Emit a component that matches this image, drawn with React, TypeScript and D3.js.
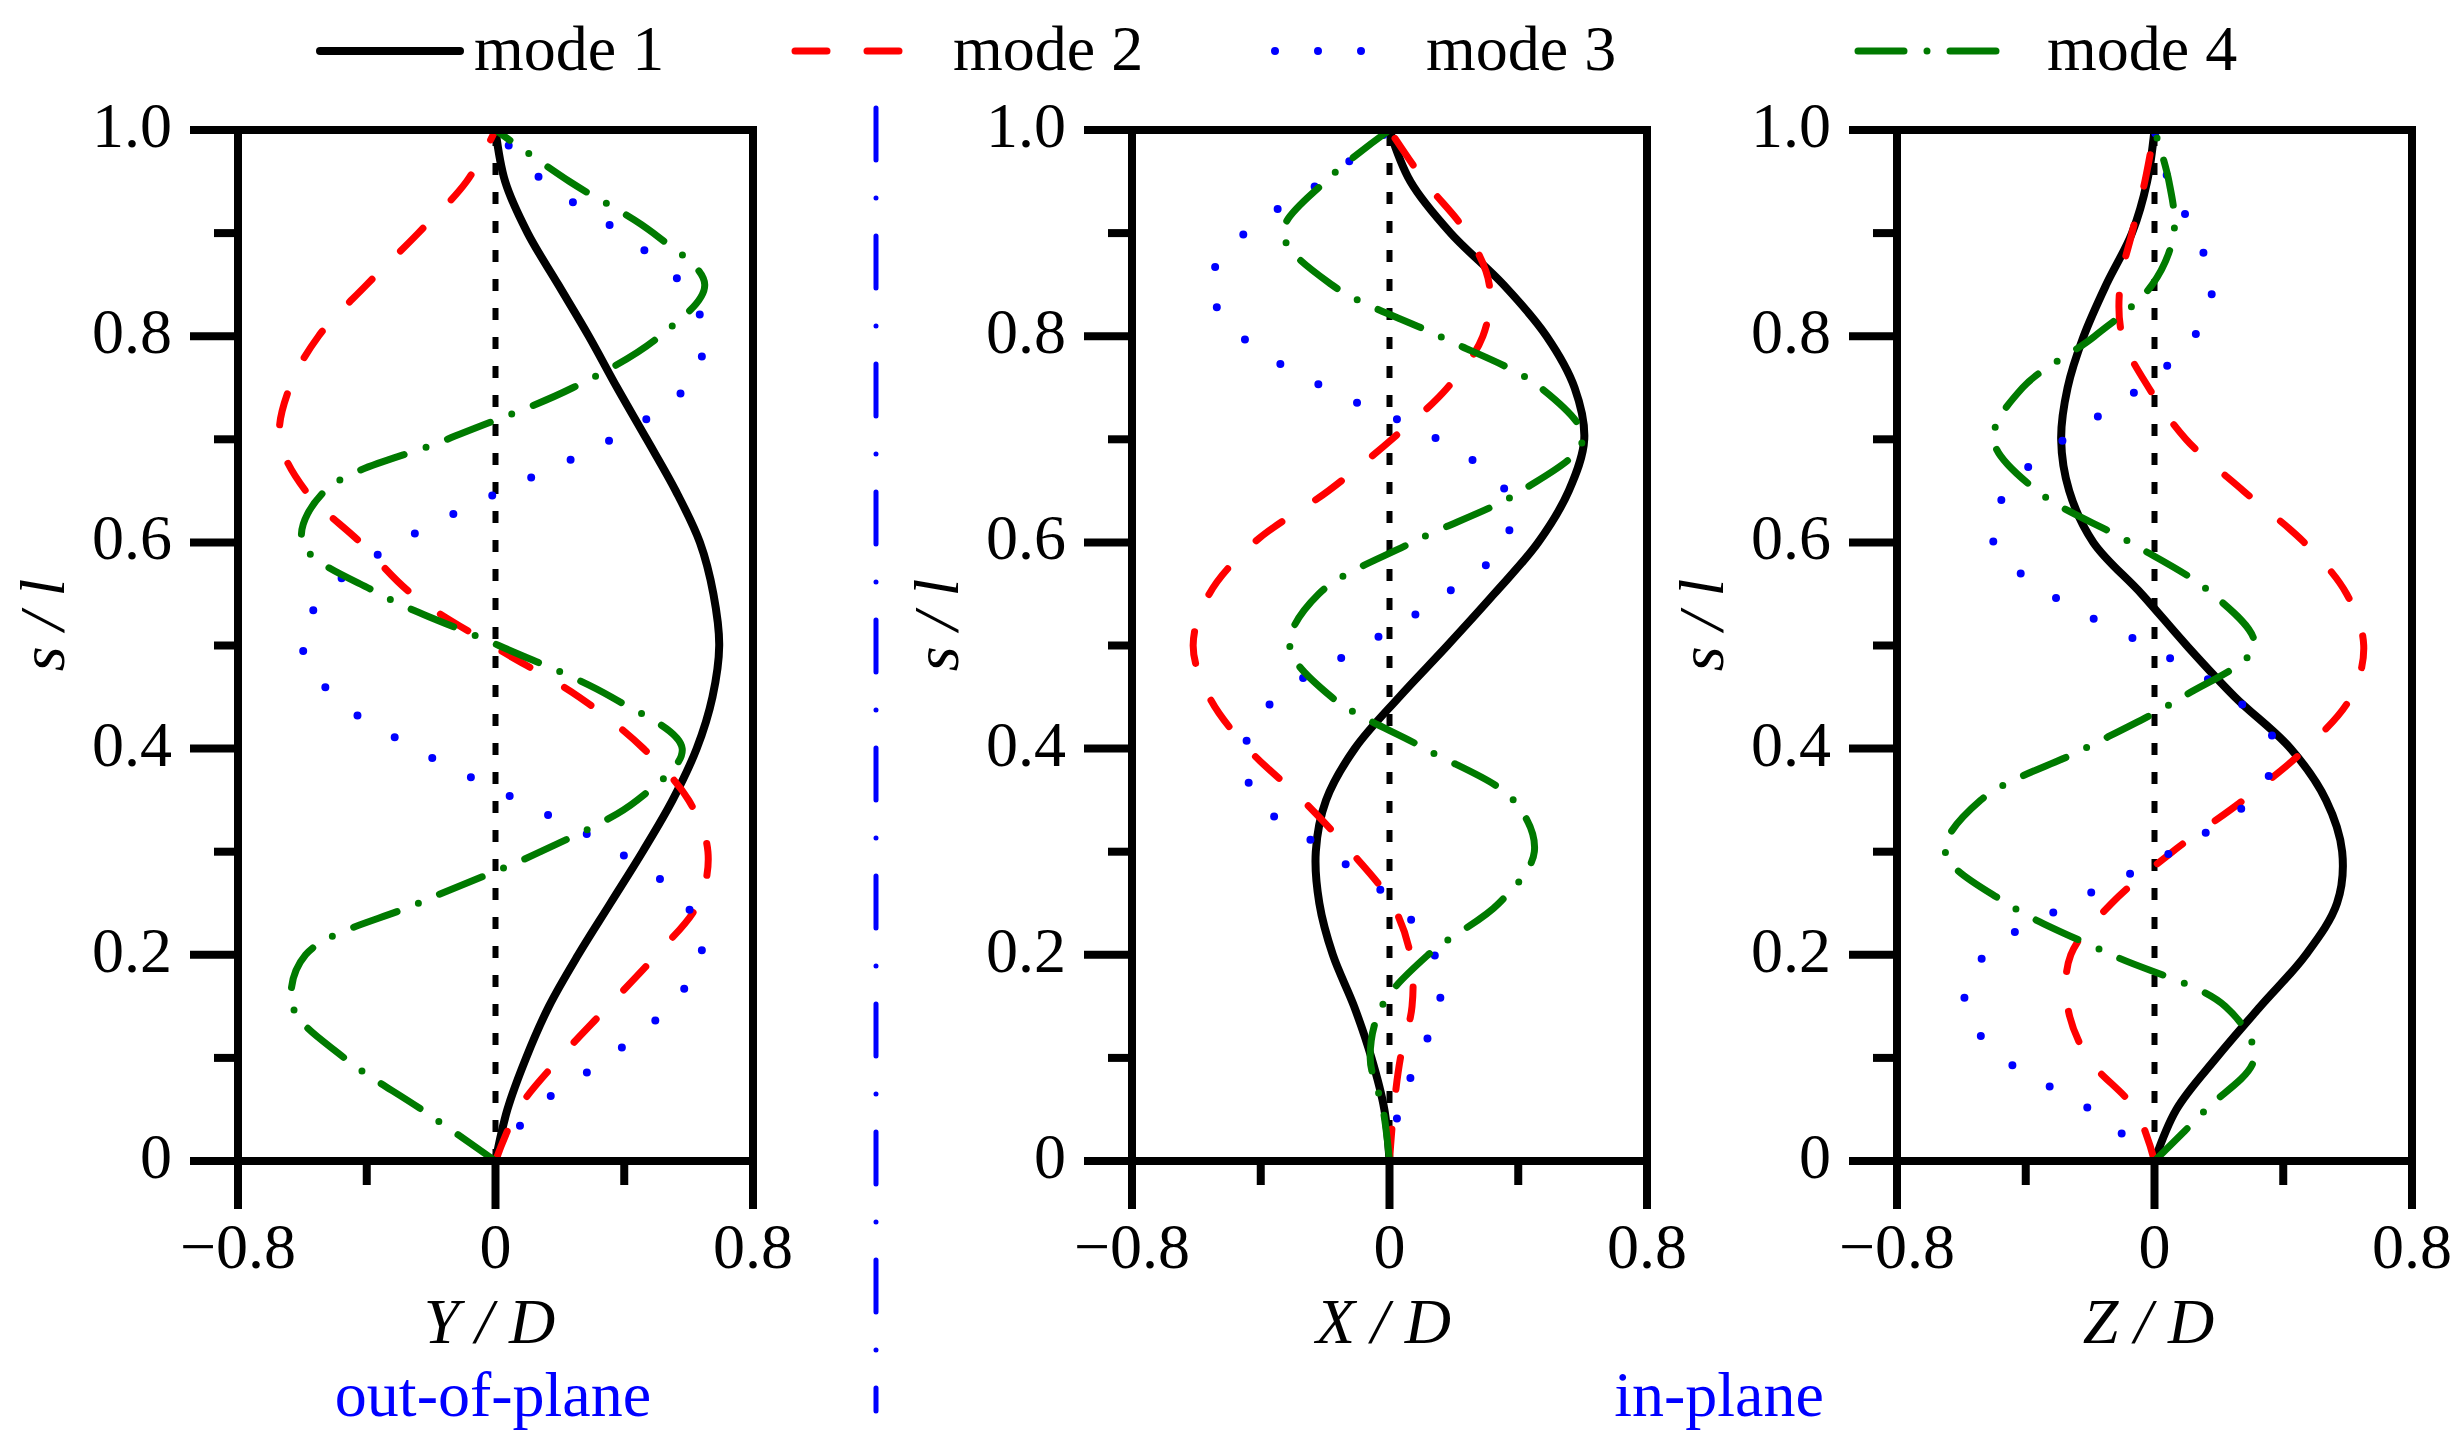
import React from 'react';
import * as d3 from 'd3';

// arc-length positions s/l where the mode shapes were read
const sLevels = [0, 0.05, 0.1, 0.15, 0.2, 0.25, 0.3, 0.35, 0.4, 0.45, 0.5, 0.55, 0.6, 0.65, 0.7, 0.75, 0.8, 0.85, 0.9, 0.95, 1];

// out-of-plane Y/D
const yMode1 = [0, 0.037, 0.095, 0.166, 0.257, 0.357, 0.457, 0.55, 0.625, 0.674, 0.695, 0.677, 0.635, 0.56, 0.47, 0.378, 0.29, 0.195, 0.10, 0.03, 0];
const yMode2 = [0, 0.07, 0.20, 0.35, 0.50, 0.63, 0.66, 0.60, 0.46, 0.26, -0.01, -0.26, -0.42, -0.59, -0.67, -0.64, -0.55, -0.40, -0.24, -0.09, 0];
const yMode3 = [0, 0.12, 0.35, 0.54, 0.64, 0.59, 0.38, 0.07, -0.25, -0.50, -0.60, -0.53, -0.30, 0.02, 0.36, 0.59, 0.65, 0.58, 0.39, 0.15, 0];
const yMode4 = [0, -0.23, -0.47, -0.63, -0.59, -0.24, 0.14, 0.44, 0.58, 0.36, 0.01, -0.36, -0.60, -0.53, -0.15, 0.24, 0.51, 0.65, 0.49, 0.23, 0];

// in-plane X/D
const xMode1 = [0, -0.016, -0.056, -0.11, -0.176, -0.218, -0.229, -0.197, -0.108, 0.03, 0.18, 0.325, 0.462, 0.557, 0.605, 0.575, 0.488, 0.354, 0.19, 0.065, 0];
const xMode2 = [0, 0.013, 0.034, 0.07, 0.065, 0.007, -0.12, -0.27, -0.44, -0.56, -0.61, -0.56, -0.42, -0.19, 0.007, 0.18, 0.29, 0.31, 0.24, 0.11, 0];
const xMode3 = [0, 0.03, 0.09, 0.155, 0.14, 0.018, -0.19, -0.41, -0.45, -0.35, -0.08, 0.175, 0.36, 0.36, 0.15, -0.20, -0.46, -0.56, -0.45, -0.21, 0];
const xMode4 = [0, -0.02, -0.06, -0.024, 0.12, 0.34, 0.45, 0.385, 0.11, -0.18, -0.31, -0.22, 0.07, 0.41, 0.60, 0.47, 0.155, -0.18, -0.33, -0.20, 0];

// in-plane Z/D
const zMode1 = [0, 0.068, 0.192, 0.329, 0.47, 0.567, 0.583, 0.533, 0.423, 0.25, 0.10, -0.04, -0.19, -0.265, -0.29, -0.27, -0.22, -0.15, -0.07, -0.023, 0];
const zMode2 = [0, -0.06, -0.207, -0.27, -0.26, -0.133, 0.056, 0.276, 0.47, 0.61, 0.65, 0.597, 0.465, 0.276, 0.098, -0.018, -0.10, -0.107, -0.07, -0.03, 0];
const zMode3 = [0, -0.20, -0.47, -0.59, -0.527, -0.26, 0.056, 0.297, 0.38, 0.245, -0.025, -0.325, -0.50, -0.46, -0.28, -0.044, 0.124, 0.18, 0.124, 0.045, 0];
const zMode4 = [0, 0.16, 0.31, 0.22, -0.133, -0.46, -0.65, -0.54, -0.217, 0.087, 0.31, 0.18, -0.076, -0.365, -0.50, -0.41, -0.186, -0.007, 0.06, 0.045, 0];

const modeNames = ['mode 1', 'mode 2', 'mode 3', 'mode 4'];
const axisNames = ['Y', 'X', 'Z'];
const groupNames = ['out-of-plane', 'in-plane'];

const xTicks = [-0.8, 0, 0.8];
const xTickLabels = ['\u22120.8', '0', '0.8'];
const xMinorTicks = [-0.4, 0.4];
const yTicks = [0, 0.2, 0.4, 0.6, 0.8, 1.0];
const yTickLabels = ['0', '0.2', '0.4', '0.6', '0.8', '1.0'];
const yMinorTicks = [0.1, 0.3, 0.5, 0.7, 0.9];

const panelData = [
  [yMode1, yMode2, yMode3, yMode4],
  [xMode1, xMode2, xMode3, xMode4],
  [zMode1, zMode2, zMode3, zMode4],
];

const W = 2458;
const H = 1448;
const FONT = "'Liberation Serif', 'Times New Roman', serif";
const FS = 64;

const panelLeft = [238, 1132, 1897];
const panelW = 515;
const top = 130;
const bottom = 1161;

const styles = [
  { color: '#000000', width: 8, dash: undefined, cap: 'round' },
  { color: '#ff0000', width: 7, dash: '32 40', cap: 'round' },
  { color: '#0000ff', width: 8, dash: '0 43', cap: 'round' },
  { color: '#007a00', width: 7, dash: '46 23 0 23', cap: 'round' },
];

const legendPos = [
  { x1: 320, x2: 460, tx: 474 },
  { x1: 795, x2: 918, tx: 953 },
  { x1: 1275, x2: 1370, tx: 1426 },
  { x1: 1858, x2: 1998, tx: 2047 },
];

const yScale = d3.scaleLinear().domain([0, 1]).range([bottom, top]);

const Panel = ({ idx }: { idx: number }) => {
  const left = panelLeft[idx];
  const x = d3.scaleLinear().domain([-0.8, 0.8]).range([left, left + panelW]);
  const modes = panelData[idx];
  const line = d3
    .line<number>()
    .x((d) => x(d))
    .y((_, i) => yScale(sLevels[i]))
    .curve(d3.curveCatmullRom.alpha(0.5));
  const stroke = { stroke: '#000', strokeWidth: 8 };
  return (
    <g>
      {/* zero reference */}
      <line x1={x(0)} x2={x(0)} y1={yScale(0)} y2={yScale(1)} stroke="#000" strokeWidth={6} strokeDasharray="12 17" />
      {modes.map((vals, m) => (
        <path
          key={m}
          d={line(vals) || ''}
          fill="none"
          stroke={styles[m].color}
          strokeWidth={styles[m].width}
          strokeDasharray={styles[m].dash}
          strokeLinecap={styles[m].cap as any}
          strokeLinejoin="round"
        />
      ))}
      {/* frame */}
      <rect x={left} y={top} width={panelW} height={bottom - top} fill="none" {...stroke} />
      {xTicks.map((t, i) => (
        <g key={'xt' + i}>
          <line x1={x(t)} x2={x(t)} y1={bottom} y2={bottom + 48} {...stroke} />
          <text x={x(t)} y={1268} textAnchor="middle" fontSize={FS} fontFamily={FONT}>
            {xTickLabels[i]}
          </text>
        </g>
      ))}
      {xMinorTicks.map((t, i) => (
        <line key={'xm' + i} x1={x(t)} x2={x(t)} y1={bottom} y2={bottom + 24} {...stroke} />
      ))}
      {yTicks.map((t, i) => (
        <g key={'yt' + i}>
          <line x1={left - 48} x2={left} y1={yScale(t)} y2={yScale(t)} {...stroke} />
          <text x={left - 66} y={yScale(t) + 17} textAnchor="end" fontSize={FS} fontFamily={FONT}>
            {yTickLabels[i]}
          </text>
        </g>
      ))}
      {yMinorTicks.map((t, i) => (
        <line key={'ym' + i} x1={left - 24} x2={left} y1={yScale(t)} y2={yScale(t)} {...stroke} />
      ))}
      <text x={x(0) - 6} y={1343} textAnchor="middle" fontSize={FS} fontFamily={FONT} fontStyle="italic">
        {axisNames[idx] + ' / D'}
      </text>
      <text
        transform={`translate(${left - 174},${625}) rotate(-90)`}
        textAnchor="middle"
        fontSize={FS}
        fontFamily={FONT}
        fontStyle="italic"
      >
        s / l
      </text>
    </g>
  );
};

export default function App() {
  return (
    <svg width={W} height={H} style={{ position: 'absolute', left: 0, top: 0, background: '#fff' }}>
      <rect width={W} height={H} fill="#fff" />
      {modeNames.map((name, m) => (
        <g key={name}>
          <line
            x1={legendPos[m].x1}
            x2={legendPos[m].x2}
            y1={51}
            y2={51}
            stroke={styles[m].color}
            strokeWidth={styles[m].width}
            strokeDasharray={styles[m].dash}
            strokeLinecap={styles[m].cap as any}
          />
          <text x={legendPos[m].tx} y={70} fontSize={FS} fontFamily={FONT}>
            {name}
          </text>
        </g>
      ))}
      {[0, 1, 2].map((i) => (
        <Panel key={i} idx={i} />
      ))}
      <line x1={876} x2={876} y1={108} y2={1411} stroke="#0000ff" strokeWidth={5} strokeDasharray="52 38 0 38" strokeLinecap="round" />
      <text x={493} y={1416} textAnchor="middle" fontSize={FS} fontFamily={FONT} fill="#0000ff">
        {groupNames[0]}
      </text>
      <text x={1719} y={1416} textAnchor="middle" fontSize={FS} fontFamily={FONT} fill="#0000ff">
        {groupNames[1]}
      </text>
    </svg>
  );
}
